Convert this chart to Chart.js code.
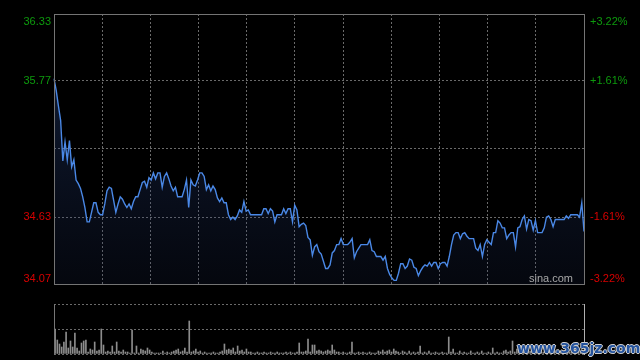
<!DOCTYPE html>
<html>
<head>
<meta charset="utf-8">
<script src="https://cdn.jsdelivr.net/npm/chart.js@4"></script>
<style>
  html, body { margin: 0; padding: 0; background: #000; width: 640px; height: 360px; overflow: hidden; }
  #price { position: absolute; left: 0; top: 0; }
  #vol { position: absolute; left: 0; top: 292px; }
  #mark {
    position: absolute; left: 517px; top: 340px; line-height: 16px;
    font: bold 14px "DejaVu Sans", sans-serif; color: #24539e;
    text-shadow: 1px 0 #cfcfcf, -1px 0 #cfcfcf, 0 1px #cfcfcf, 0 -1px #cfcfcf;
  }
</style>
</head>
<body>
<canvas id="price" width="640" height="292"></canvas>
<canvas id="vol" width="640" height="68"></canvas>
<div id="mark">www.365jz.com</div>
<script>
// trading sessions -> minute categories (241 points)
const sessions = [["09:30", "11:30"], ["13:01", "15:00"]];

// minute prices
const prices = [
  35.79, 35.69, 35.56, 35.44, 35.10, 35.26, 35.11, 35.27, 35.05, 35.11,
  34.94, 34.91, 34.87, 34.80, 34.71, 34.59, 34.59, 34.67, 34.75, 34.75,
  34.67, 34.65, 34.65, 34.74, 34.85, 34.88, 34.87, 34.77, 34.67, 34.74,
  34.80, 34.78, 34.74, 34.71, 34.74, 34.70, 34.76, 34.80, 34.80, 34.86,
  34.92, 34.93, 34.88, 34.96, 34.94, 35.00, 34.95, 35.00, 35.00, 34.88,
  34.97, 35.00, 34.95, 34.89, 34.85, 34.88, 34.80, 34.80, 34.80, 34.86,
  34.94, 34.71, 34.94, 34.90, 34.89, 34.94, 35.00, 35.00, 34.97, 34.86,
  34.90, 34.85, 34.89, 34.86, 34.79, 34.76, 34.79, 34.75, 34.75, 34.65,
  34.61, 34.63, 34.61, 34.64, 34.69, 34.67, 34.76, 34.68, 34.69, 34.65,
  34.65, 34.65, 34.65, 34.65, 34.65, 34.70, 34.70, 34.66, 34.70, 34.68,
  34.59, 34.65, 34.65, 34.65, 34.70, 34.66, 34.70, 34.70, 34.59, 34.73,
  34.69, 34.55, 34.57, 34.58, 34.56, 34.46, 34.44, 34.31, 34.38, 34.40,
  34.34, 34.32, 34.26, 34.20, 34.20, 34.23, 34.33, 34.35, 34.40, 34.40,
  34.45, 34.40, 34.40, 34.40, 34.42, 34.45, 34.29, 34.34, 34.37, 34.40,
  34.40, 34.40, 34.40, 34.44, 34.35, 34.34, 34.30, 34.30, 34.30, 34.27,
  34.30, 34.20, 34.15, 34.12, 34.10, 34.10, 34.16, 34.24, 34.24, 34.20,
  34.22, 34.28, 34.27, 34.21, 34.20, 34.14, 34.18, 34.21, 34.23, 34.22,
  34.25, 34.22, 34.25, 34.25, 34.20, 34.24, 34.25, 34.25, 34.22, 34.30,
  34.40, 34.48, 34.50, 34.50, 34.45, 34.49, 34.50, 34.47, 34.45, 34.45,
  34.45, 34.37, 34.35, 34.40, 34.30, 34.40, 34.44, 34.42, 34.40, 34.50,
  34.50, 34.60, 34.58, 34.54, 34.54, 34.45, 34.48, 34.50, 34.50, 34.38,
  34.54, 34.55, 34.61, 34.64, 34.53, 34.61, 34.60, 34.52, 34.60, 34.50,
  34.50, 34.50, 34.54, 34.63, 34.64, 34.61, 34.55, 34.61, 34.61, 34.61,
  34.61, 34.61, 34.64, 34.62, 34.65, 34.65, 34.65, 34.65, 34.63, 34.75,
  34.51
];

// minute volumes (lots)
const volumes = [
  2500, 1400, 1000, 700, 1200, 2200, 600, 1300, 700, 2100,
  600, 300, 1100, 1300, 1400, 200, 500, 400, 1200, 300,
  400, 2500, 900, 200, 300, 200, 800, 200, 1200, 300,
  200, 400, 200, 200, 100, 2400, 100, 800, 100, 500,
  400, 300, 600, 400, 200, 100, 100, 100, 100, 300,
  100, 200, 100, 200, 300, 400, 500, 200, 300, 600,
  200, 3300, 200, 300, 500, 200, 300, 100, 200, 100,
  100, 100, 200, 100, 100, 200, 300, 1000, 400, 500,
  400, 600, 200, 800, 300, 400, 200, 500, 200, 200,
  100, 100, 200, 100, 100, 200, 100, 100, 200, 100,
  100, 200, 100, 100, 100, 200, 100, 200, 100, 100,
  200, 1100, 200, 200, 300, 1500, 200, 900, 900, 300,
  400, 300, 200, 300, 400, 300, 900, 400, 200, 200,
  100, 200, 100, 100, 200, 1200, 100, 100, 200, 100,
  200, 100, 100, 200, 100, 100, 100, 300, 200, 400,
  200, 300, 400, 200, 500, 300, 200, 100, 300, 200,
  100, 300, 100, 200, 100, 200, 800, 100, 200, 100,
  300, 100, 100, 200, 100, 100, 200, 100, 100, 1700,
  200, 500, 100, 100, 300, 100, 200, 100, 100, 300,
  100, 100, 200, 100, 300, 100, 100, 200, 100, 600,
  100, 200, 100, 100, 300, 400, 200, 300, 1300, 200,
  500, 200, 300, 200, 400, 200, 300, 200, 500, 200,
  300, 200, 200, 300, 200, 400, 200, 300, 200, 200,
  300, 200, 200, 300, 200, 200, 300, 200, 400, 300,
  400
];

// axis ticks and their labels
const priceTicks = [36.33, 35.77, 35.20, 34.63, 34.07];
const leftLabels = ["36.33", "35.77", "", "34.63", "34.07"];
const rightLabels = ["+3.22%", "+1.61%", "", "-1.61%", "-3.22%"];
const volTicks = [0, 2500, 5000];
const gridColumns = 11;

function buildTimes() {
  const out = [];
  sessions.forEach(([a, b]) => {
    let [h, m] = a.split(":").map(Number);
    const end = b.split(":").map(Number);
    while (h < end[0] || (h === end[0] && m <= end[1])) {
      out.push(String(h).padStart(2, "0") + ":" + String(m).padStart(2, "0"));
      m++;
      if (m === 60) { m = 0; h++; }
    }
  });
  return out;
}
const times = buildTimes();

const UP = "#0d9a0d";
const DOWN = "#d80000";
const GRID = "#6a6a6a";

const priceFrame = {
  id: "priceFrame",
  afterDraw(chart) {
    const { ctx, chartArea: a } = chart;
    const y = chart.scales.y;
    ctx.save();
    ctx.strokeStyle = "#747474";
    ctx.lineWidth = 1;
    ctx.strokeRect(a.left + 0.5, a.top + 0.5, a.right - a.left, a.bottom - a.top);

    ctx.font = "11px 'Liberation Sans', Arial, sans-serif";
    priceTicks.forEach((v, i) => {
      if (!leftLabels[i]) return;
      let py = y.getPixelForValue(v);
      ctx.textBaseline = "middle";
      if (i === 0) { ctx.textBaseline = "top"; py = a.top + 2; }
      if (i === priceTicks.length - 1) { ctx.textBaseline = "alphabetic"; py = a.bottom - 2; }
      ctx.fillStyle = v > priceTicks[2] ? UP : DOWN;
      ctx.textAlign = "right";
      ctx.fillText(leftLabels[i], a.left - 3, py);
      ctx.textAlign = "left";
      ctx.fillText(rightLabels[i], a.right + 6, py);
    });

    ctx.fillStyle = "#a8a8a8";
    ctx.textAlign = "right";
    ctx.textBaseline = "alphabetic";
    ctx.fillText("sina.com", a.right - 11, a.bottom - 2);
    ctx.restore();
  }
};

new Chart(document.getElementById("price"), {
  type: "line",
  data: {
    labels: times,
    datasets: [{
      data: prices,
      borderColor: "#4a88e6",
      borderWidth: 1.4,
      pointRadius: 0,
      tension: 0,
      fill: "start",
      backgroundColor(context) {
        const { ctx, chartArea } = context.chart;
        if (!chartArea) return "rgba(20,35,70,0.3)";
        const g = ctx.createLinearGradient(0, chartArea.top, 0, chartArea.bottom);
        g.addColorStop(0, "rgba(50,90,170,0.38)");
        g.addColorStop(1, "rgba(30,45,90,0.16)");
        return g;
      }
    }]
  },
  options: {
    responsive: false,
    animation: false,
    events: [],
    layout: { padding: { left: 54, right: 56, top: 14, bottom: 8 } },
    plugins: { legend: { display: false }, tooltip: { enabled: false } },
    scales: {
      x: { display: false },
      x2: {
        type: "linear",
        position: "top",
        min: 0,
        max: gridColumns,
        ticks: { display: false, stepSize: 1 },
        grid: { color: GRID, drawTicks: false },
        border: { display: false, dash: [2, 2] }
      },
      y: {
        min: priceTicks[priceTicks.length - 1],
        max: priceTicks[0],
        afterBuildTicks(scale) { scale.ticks = priceTicks.map(v => ({ value: v })); },
        ticks: { display: false },
        grid: { color: GRID, drawTicks: false },
        border: { display: false, dash: [2, 2] }
      }
    }
  },
  plugins: [priceFrame]
});

const volFrame = {
  id: "volFrame",
  afterDraw(chart) {
    const { ctx, chartArea: a } = chart;
    ctx.save();
    ctx.lineWidth = 1;
    ctx.strokeStyle = "#767676";
    ctx.beginPath();
    ctx.moveTo(a.left + 0.5, a.top);
    ctx.lineTo(a.left + 0.5, a.bottom + 1);
    ctx.stroke();
    ctx.strokeStyle = "#b0b0b0";
    ctx.beginPath();
    ctx.moveTo(a.right + 0.5, a.top);
    ctx.lineTo(a.right + 0.5, a.bottom + 1);
    ctx.stroke();
    ctx.restore();
  }
};

new Chart(document.getElementById("vol"), {
  type: "bar",
  data: {
    labels: times,
    datasets: [{
      data: volumes,
      backgroundColor: "#8c8c8c",
      barThickness: 1,
      categoryPercentage: 1,
      barPercentage: 1
    }]
  },
  options: {
    responsive: false,
    animation: false,
    events: [],
    layout: { padding: { left: 54, right: 56, top: 12, bottom: 6 } },
    plugins: { legend: { display: false }, tooltip: { enabled: false } },
    scales: {
      x: { display: false },
      y: {
        min: volTicks[0],
        max: volTicks[volTicks.length - 1],
        afterBuildTicks(scale) { scale.ticks = volTicks.map(v => ({ value: v })); },
        ticks: { display: false },
        grid: { color: GRID, drawTicks: false },
        border: { display: false, dash: [2, 2] }
      }
    }
  },
  plugins: [volFrame]
});
</script>
</body>
</html>
